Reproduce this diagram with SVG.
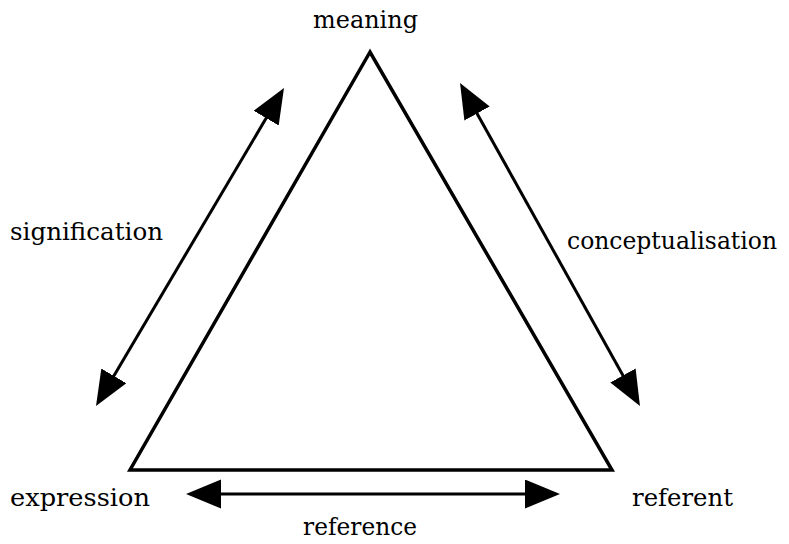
<svg xmlns="http://www.w3.org/2000/svg" width="789" height="544" viewBox="0 0 789 544">
<style>
text{font-family:"DejaVu Serif",serif;font-size:25px;fill:#000}
.arr{stroke:#000;stroke-width:3;fill:none;marker-start:url(#ah);marker-end:url(#ah)}
</style>
<defs>
<marker id="ah" markerUnits="userSpaceOnUse" markerWidth="36" markerHeight="30" refX="25" refY="14.5" orient="auto-start-reverse" viewBox="0 0 36 30">
<path d="M0,0 L35,14.5 L0,29 z" fill="#000"/>
</marker>
</defs>
<rect width="789" height="544" fill="#fff"/>
<g id="triangle">
<polygon points="370,52 130,470 612,470" fill="none" stroke="#000" stroke-width="3.5" stroke-linejoin="miter"/>
</g>
<g id="meaning"><text x="313" y="28" textLength="105" lengthAdjust="spacingAndGlyphs">meaning</text></g>
<g id="expression"><text x="10" y="506" textLength="140" lengthAdjust="spacingAndGlyphs">expression</text></g>
<g id="referent"><text x="632" y="506" textLength="101" lengthAdjust="spacingAndGlyphs">referent</text></g>
<g id="connectors">
<line class="arr" x1="101.1" y1="397.4" x2="278.9" y2="96.6"/>
<line class="arr" x1="464.9" y1="91.7" x2="635.1" y2="397.3"/>
<line class="arr" x1="196" y1="494" x2="550" y2="494"/>
</g>
<g id="labels">
<text x="10" y="240" textLength="153" lengthAdjust="spacingAndGlyphs">signification</text>
<text x="567" y="249" style="font-size:23.5px" textLength="210" lengthAdjust="spacingAndGlyphs">conceptualisation</text>
<text x="303" y="535" textLength="114" lengthAdjust="spacingAndGlyphs">reference</text>
</g>
</svg>
